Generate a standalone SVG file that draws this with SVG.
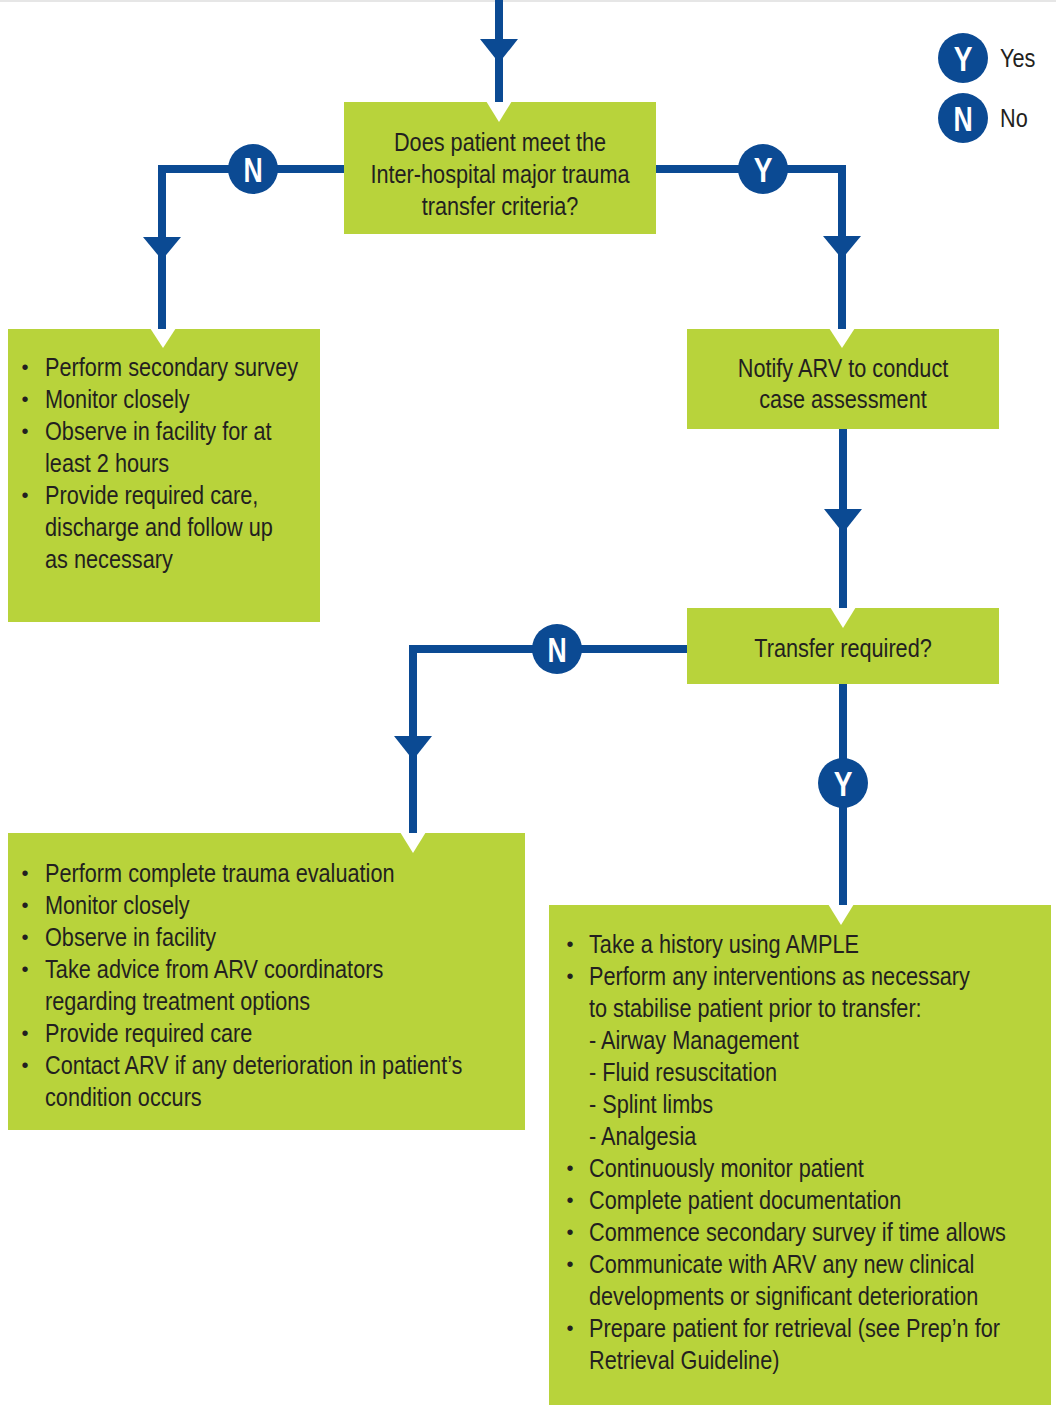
<svg xmlns="http://www.w3.org/2000/svg" width="1056" height="1415" viewBox="0 0 1056 1415">
<style>
.box{fill:#B8D33B}
.notch{fill:#FFFFFF}
.conn{stroke:#0B4A93;stroke-width:8;fill:none;stroke-linejoin:miter}
.arrow{fill:#0B4A93}
.dot{fill:#0B4A93}
.t{font-family:'Liberation Sans',Arial,sans-serif;font-size:25px;fill:#231F20}
.b{font-family:'Liberation Sans',Arial,sans-serif;font-size:20px;fill:#231F20;text-anchor:middle}
.lbl{font-family:'Liberation Sans',Arial,sans-serif;font-weight:bold;font-size:36px;fill:#FFFFFF;text-anchor:middle}
.c{text-anchor:middle}
</style>
<rect x="0" y="0" width="1056" height="1415" fill="#FFFFFF"/>
<rect x="0" y="0" width="1056" height="2" fill="#E6E6E6"/>

<g id="legend">
  <circle class="dot" cx="963" cy="58" r="25"/>
  <g transform="translate(963 0) scale(0.78 1)"><text class="lbl" x="0" y="71">Y</text></g>
  <circle class="dot" cx="963" cy="118" r="25"/>
  <g transform="translate(963 0) scale(0.74 1)"><text class="lbl" x="0" y="131">N</text></g>
  <g transform="translate(1000 0) scale(0.868 1)"><text class="t" x="0" y="67">Yes</text><text class="t" x="0" y="127">No</text></g>
</g>

<g id="criteria">
  <rect class="box" x="344" y="102" width="312" height="132"/>
  <polygon class="notch" points="486,101 512,101 499,122"/>
  <g transform="translate(500 0) scale(0.868 1)">
    <text class="t c" x="0" y="151">Does patient meet the</text>
    <text class="t c" x="0" y="183">Inter-hospital major trauma</text>
    <text class="t c" x="0" y="215">transfer criteria?</text>
  </g>
</g>

<g id="secondary">
  <rect class="box" x="8" y="329" width="312" height="293"/>
  <polygon class="notch" points="150,328 176,328 163,348"/>
  <g class="b">
    <text x="25" y="374">•</text><text x="25" y="406">•</text><text x="25" y="438">•</text><text x="25" y="502">•</text>
  </g>
  <g transform="translate(45 0) scale(0.868 1)">
    <text class="t" x="0" y="376">Perform secondary survey</text>
    <text class="t" x="0" y="408">Monitor closely</text>
    <text class="t" x="0" y="440">Observe in facility for at</text>
    <text class="t" x="0" y="472">least 2 hours</text>
    <text class="t" x="0" y="504">Provide required care,</text>
    <text class="t" x="0" y="536">discharge and follow up</text>
    <text class="t" x="0" y="568">as necessary</text>
  </g>
</g>

<g id="notify">
  <rect class="box" x="687" y="329" width="312" height="100"/>
  <polygon class="notch" points="829,328 855,328 842,348"/>
  <g transform="translate(843 0) scale(0.868 1)">
    <text class="t c" x="0" y="377">Notify ARV to conduct</text>
    <text class="t c" x="0" y="408">case assessment</text>
  </g>
</g>

<g id="transfer">
  <rect class="box" x="687" y="608" width="312" height="76"/>
  <polygon class="notch" points="830,607 856,607 843,628"/>
  <g transform="translate(843 0) scale(0.868 1)">
    <text class="t c" x="0" y="657">Transfer required?</text>
  </g>
</g>

<g id="evaluation">
  <rect class="box" x="8" y="833" width="517" height="297"/>
  <polygon class="notch" points="400,832 426,832 413,853"/>
  <g class="b">
    <text x="25" y="880">•</text><text x="25" y="912">•</text><text x="25" y="944">•</text><text x="25" y="976">•</text><text x="25" y="1040">•</text><text x="25" y="1072">•</text>
  </g>
  <g transform="translate(45 0) scale(0.868 1)">
    <text class="t" x="0" y="882">Perform complete trauma evaluation</text>
    <text class="t" x="0" y="914">Monitor closely</text>
    <text class="t" x="0" y="946">Observe in facility</text>
    <text class="t" x="0" y="978">Take advice from ARV coordinators</text>
    <text class="t" x="0" y="1010">regarding treatment options</text>
    <text class="t" x="0" y="1042">Provide required care</text>
    <text class="t" x="0" y="1074">Contact ARV if any deterioration in patient’s</text>
    <text class="t" x="0" y="1106">condition occurs</text>
  </g>
</g>

<g id="prepare">
  <rect class="box" x="549" y="905" width="502" height="500"/>
  <polygon class="notch" points="828,904 854,904 841,925"/>
  <g class="b">
    <text x="570" y="951">•</text><text x="570" y="983">•</text><text x="570" y="1175">•</text><text x="570" y="1207">•</text><text x="570" y="1239">•</text><text x="570" y="1271">•</text><text x="570" y="1335">•</text>
  </g>
  <g transform="translate(589 0) scale(0.868 1)">
    <text class="t" x="0" y="953">Take a history using AMPLE</text>
    <text class="t" x="0" y="985">Perform any interventions as necessary</text>
    <text class="t" x="0" y="1017">to stabilise patient prior to transfer:</text>
    <text class="t" x="0" y="1049">- Airway Management</text>
    <text class="t" x="0" y="1081">- Fluid resuscitation</text>
    <text class="t" x="0" y="1113">- Splint limbs</text>
    <text class="t" x="0" y="1145">- Analgesia</text>
    <text class="t" x="0" y="1177">Continuously monitor patient</text>
    <text class="t" x="0" y="1209">Complete patient documentation</text>
    <text class="t" x="0" y="1241">Commence secondary survey if time allows</text>
    <text class="t" x="0" y="1273">Communicate with ARV any new clinical</text>
    <text class="t" x="0" y="1305">developments or significant deterioration</text>
    <text class="t" x="0" y="1337">Prepare patient for retrieval (see Prep’n for</text>
    <text class="t" x="0" y="1369">Retrieval Guideline)</text>
  </g>
</g>

<g id="connectors">
  <line class="conn" x1="499" y1="0" x2="499" y2="102"/>
  <polygon class="arrow" points="480,39 518,39 499,63"/>

  <polyline class="conn" points="344,169 162,169 162,329"/>
  <polygon class="arrow" points="143,237 181,237 162,260"/>
  <circle class="dot" cx="253" cy="169" r="25"/>
  <g transform="translate(253 0) scale(0.74 1)"><text class="lbl" x="0" y="182">N</text></g>

  <polyline class="conn" points="656,169 842,169 842,329"/>
  <polygon class="arrow" points="823,236 861,236 842,259"/>
  <circle class="dot" cx="763" cy="169" r="25"/>
  <g transform="translate(763 0) scale(0.78 1)"><text class="lbl" x="0" y="182">Y</text></g>

  <line class="conn" x1="843" y1="429" x2="843" y2="608"/>
  <polygon class="arrow" points="824,509 862,509 843,533"/>

  <polyline class="conn" points="687,649 413,649 413,833"/>
  <polygon class="arrow" points="394,736 432,736 413,760"/>
  <circle class="dot" cx="557" cy="649" r="25"/>
  <g transform="translate(557 0) scale(0.74 1)"><text class="lbl" x="0" y="662">N</text></g>

  <line class="conn" x1="843" y1="684" x2="843" y2="905"/>
  <circle class="dot" cx="843" cy="783" r="25"/>
  <g transform="translate(843 0) scale(0.78 1)"><text class="lbl" x="0" y="796">Y</text></g>
</g>
</svg>
